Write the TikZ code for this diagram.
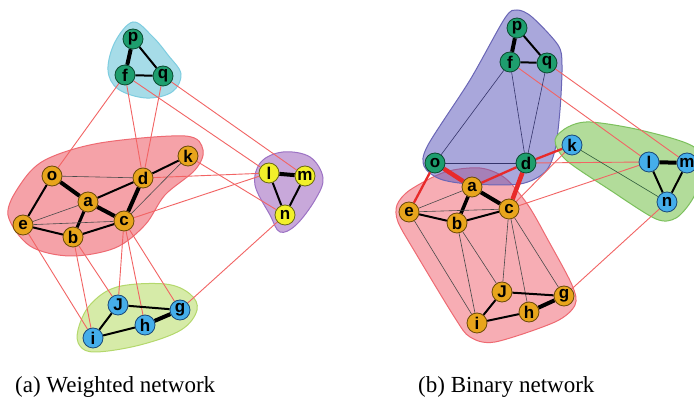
\documentclass[tikz,border=0pt]{standalone}
\usepackage{fontspec}
\setmainfont{Liberation Serif}
\setsansfont{Liberation Sans}
\pgfdeclarelayer{hull}
\pgfdeclarelayer{bg}
\pgfsetlayers{hull,bg,main}
\definecolor{cOr}{HTML}{E8A51C}
\definecolor{cOrD}{HTML}{6B4A08}
\definecolor{cGr}{HTML}{1E9E6E}
\definecolor{cGrD}{HTML}{0B4A30}
\definecolor{cYe}{HTML}{F2F02A}
\definecolor{cYeD}{HTML}{6A6A10}
\definecolor{cBl}{HTML}{45AEEA}
\definecolor{cBlD}{HTML}{1A4A7A}
\definecolor{cRed}{HTML}{F26464}
\definecolor{cRedT}{HTML}{E82A2A}
\definecolor{hCy}{HTML}{A6DCE8}
\definecolor{hCyD}{HTML}{7ECDE0}
\definecolor{hPk}{HTML}{F5A2A8}
\definecolor{hPkD}{HTML}{EE6A72}
\definecolor{hPu}{HTML}{C8A8DA}
\definecolor{hPuD}{HTML}{9C72C4}
\definecolor{hGn}{HTML}{D6EBA8}
\definecolor{hGnD}{HTML}{B4D86C}
\definecolor{hPB}{HTML}{5C58BA}
\definecolor{hPBD}{HTML}{6A66B6}
\definecolor{hRB}{HTML}{EE4A5A}
\definecolor{hRBD}{HTML}{EE6A72}
\definecolor{hGB}{HTML}{B2DC9A}
\definecolor{hGBD}{HTML}{7CC05C}
\definecolor{cNavy}{HTML}{34346A}
\definecolor{cDk}{HTML}{4A4A4A}
\definecolor{cDkG}{HTML}{2E5A3A}
\tikzset{
  vtx/.style={circle, line width=0.8pt, inner sep=0pt, minimum size=20pt,
    font=\sffamily\bfseries\fontsize{17}{17}\selectfont},
  vor/.style={vtx, fill=cOr, draw=cOrD},
  vgr/.style={vtx, fill=cGr, draw=cGrD},
  vye/.style={vtx, fill=cYe, draw=cYeD},
  vbl/.style={vtx, fill=cBl, draw=cBlD},
  thk/.style={line width=4pt, black},
  med/.style={line width=2pt, black},
  thn/.style={line width=0.6pt, cDk},
  rl/.style={line width=0.9pt, cRed},
  rthk/.style={line width=4.5pt, cRedT},
  rmed/.style={line width=2.3pt, cRedT},
  hullline/.style={line width=1pt},
  captext/.style={font=\fontsize{23}{23}\selectfont, anchor=base west, inner sep=0pt},
}
\begin{document}
\begin{tikzpicture}[x=1pt,y=-1pt]
\useasboundingbox (0,0) rectangle (694,411);
\begin{pgfonlayer}{hull}
\fill[white] (0,0) rectangle (694,411);
\end{pgfonlayer}

% ---------------- Panel (a) nodes
\node[vgr] (Ap) at (133,39) {p};
\node[vgr] (Af) at (125,75) {f};
\node[vgr] (Aq) at (163,76) {q};
\node[vor] (Ao) at (52,176) {o};
\node[vor] (Ad) at (143,178) {d};
\node[vor] (Ak) at (188,156) {k};
\node[vor] (Aa) at (88,202) {a};
\node[vor] (Ae) at (23,225) {e};
\node[vor] (Ab) at (73,237) {b};
\node[vor] (Ac) at (124,221) {c};
\node[vye] (Al) at (269,173) {l};
\node[vye] (Am) at (305,176) {m};
\node[vye] (An) at (285,215) {n};
\node[vbl] (AJ) at (118,305) {J};
\node[vbl] (Ag) at (180,310) {g};
\node[vbl] (Ah) at (145,325) {h};
\node[vbl] (Ai) at (93,338) {i};

% ---------------- Panel (b) nodes
\node[vgr] (Bp) at (517,28) {p};
\node[vgr] (Bf) at (510,62) {f};
\node[vgr] (Bq) at (547,63) {q};
\node[vgr] (Bo) at (435,163) {o};
\node[vgr] (Bd) at (526,163) {d};
\node[vbl] (Bk) at (572,145) {k};
\node[vbl] (Bl) at (649,162) {l};
\node[vbl] (Bm) at (687,163) {m};
\node[vbl] (Bn) at (667,202) {n};
\node[vor] (Ba) at (472,187) {a};
\node[vor] (Be) at (409,212) {e};
\node[vor] (Bb) at (457,223) {b};
\node[vor] (Bc) at (509,209) {c};
\node[vor] (BJ) at (502,292) {J};
\node[vor] (Bg) at (564,296) {g};
\node[vor] (Bh) at (529,312) {h};
\node[vor] (Bi) at (477,323) {i};

% ---------------- hulls
\begin{pgfonlayer}{hull}
% panel a
\draw[hullline, fill=hCy, draw=hCyD] plot[smooth cycle, tension=0.6] coordinates {
  (133,22) (152,36) (168,55) (181,74) (172,92) (146,98) (118,89) (108,70) (115,42)};
\draw[hullline, fill=hPk, draw=hPkD] plot[smooth cycle, tension=0.55] coordinates {
  (8,215) (20,185) (45,160) (100,143) (185,136) (203,150) (195,170) (165,195)
  (145,225) (115,248) (70,256) (30,246)};
\draw[hullline, fill=hPu, draw=hPuD] plot[smooth cycle, tension=0.6] coordinates {
  (283,152) (310,157) (323,178) (315,200) (296,225) (280,232) (270,215) (255,185) (261,162)};
\draw[hullline, fill=hGn, draw=hGnD] plot[smooth cycle, tension=0.6] coordinates {
  (78,330) (90,305) (117,287) (165,284) (190,294) (197,310) (181,330) (140,345) (96,352) (80,346)};
% panel b
\draw[hullline, fill=hRB, fill opacity=0.45, draw=hRBD] plot[smooth cycle, tension=0.5] coordinates {
  (397,205) (410,190) (445,172) (480,168) (505,178) (528,205) (548,240) (572,285)
  (575,305) (555,322) (495,342) (470,337) (455,318) (415,252) (398,222)};
\draw[hullline, fill=hPB, fill opacity=0.52, draw=hPBD] plot[smooth cycle, tension=0.5] coordinates {
  (517,10) (532,17) (558,45) (562,65) (560,110) (555,150) (545,172) (520,184)
  (470,184) (440,179) (424,166) (428,145) (470,80) (505,18)};
\draw[hullline, fill=hGB, draw=hGBD] plot[smooth cycle, tension=0.5] coordinates {
  (555,140) (568,127) (590,122) (640,130) (694,147) (702,175) (692,200) (676,218)
  (656,219) (610,190) (566,160)};
\end{pgfonlayer}

% ---------------- edges
\begin{pgfonlayer}{bg}
% panel a, inter-community (red)
\draw[rl] (Af) -- (Ao);
\draw[rl] (Af) -- (Ad);
\draw[rl] (Aq) -- (Ad);
\draw[rl] (Af) -- (Al);
\draw[rl] (Aq) -- (Am);
\draw[rl] (Ad) -- (Al);
\draw[rl] (Ac) -- (Al);
\draw[rl] (Ak) -- (An);
\draw[rl] (Ae) -- (Ai);
\draw[rl] (Ab) -- (Ai);
\draw[rl] (Ab) -- (AJ);
\draw[rl] (Ac) -- (AJ);
\draw[rl] (Ac) -- (Ah);
\draw[rl] (Ac) -- (Ag);
\draw[rl] (An) -- (Ag);
% panel a, intra
\draw[thk] (Ap) -- (Af);
\draw[med] (Ap) -- (Aq);
\draw[med] (Af) -- (Aq);
\draw[thk] (Ao) -- (Aa);
\draw[med] (Ao) -- (Ae);
\draw[thn] (Ao) -- (Ad);
\draw[med] (Aa) -- (Ad);
\draw[thk] (Aa) -- (Ac);
\draw[line width=3pt] (Aa) -- (Ab);
\draw[thn] (Aa) -- (Ae);
\draw[med] (Ae) -- (Ab);
\draw[thn] (Ae) -- (Ac);
\draw[med] (Ab) -- (Ac);
\draw[thk] (Ad) -- (Ac);
\draw[med] (Ad) -- (Ak);
\draw[thn] (Ac) -- (Ak);
\draw[thk] (Al) -- (Am);
\draw[med] (Al) -- (An);
\draw[med] (Am) -- (An);
\draw[med] (AJ) -- (Ag);
\draw[med] (AJ) -- (Ai);
\draw[med] (Ai) -- (Ah);
\draw[thk] (Ah) -- (Ag);

% panel b, inter-community (red)
\draw[rl] (Bf) -- (Bl);
\draw[rl] (Bq) -- (Bm);
\draw[rl] (Bd) -- (Bl);
\draw[rl] (Bc) -- (Bk);
\draw[rl] (Bc) -- (Bl);
\draw[rl] (Bn) -- (Bg);
\draw[rthk] (Bo) -- (Ba);
\draw[rthk] (Bd) -- (Bc);
\draw[rmed] (Bd) -- (Ba);
\draw[rmed] (Bo) -- (Be);
\draw[rmed] (Bd) -- (Bk);
% panel b, intra
\draw[thk] (Bp) -- (Bf);
\draw[med] (Bp) -- (Bq);
\draw[med] (Bf) -- (Bq);
\draw[line width=0.6pt, cNavy] (Bf) -- (Bo);
\draw[line width=0.6pt, cNavy] (Bf) -- (Bd);
\draw[line width=0.6pt, cNavy] (Bq) -- (Bd);
\draw[line width=0.6pt, cNavy] (Bo) -- (Bd);
\draw[line width=0.6pt, cDkG] (Bk) -- (Bn);
\draw[thk] (Bl) -- (Bm);
\draw[med] (Bl) -- (Bn);
\draw[med] (Bm) -- (Bn);
\draw[thn] (Ba) -- (Be);
\draw[line width=3.5pt] (Ba) -- (Bb);
\draw[thk] (Ba) -- (Bc);
\draw[med] (Be) -- (Bb);
\draw[thn] (Be) -- (Bc);
\draw[med] (Bb) -- (Bc);
\draw[thn] (Be) -- (Bi);
\draw[thn] (Bb) -- (Bi);
\draw[thn] (Bb) -- (BJ);
\draw[thn] (Bc) -- (BJ);
\draw[thn] (Bc) -- (Bh);
\draw[thn] (Bc) -- (Bg);
\draw[med] (BJ) -- (Bg);
\draw[med] (BJ) -- (Bi);
\draw[med] (Bi) -- (Bh);
\draw[thk] (Bh) -- (Bg);
\end{pgfonlayer}

% ---------------- captions
\node[captext] (capA) at (15,393) {(a) Weighted network};
\node[captext] (capB) at (418,393) {(b) Binary network};
\end{tikzpicture}
\end{document}
